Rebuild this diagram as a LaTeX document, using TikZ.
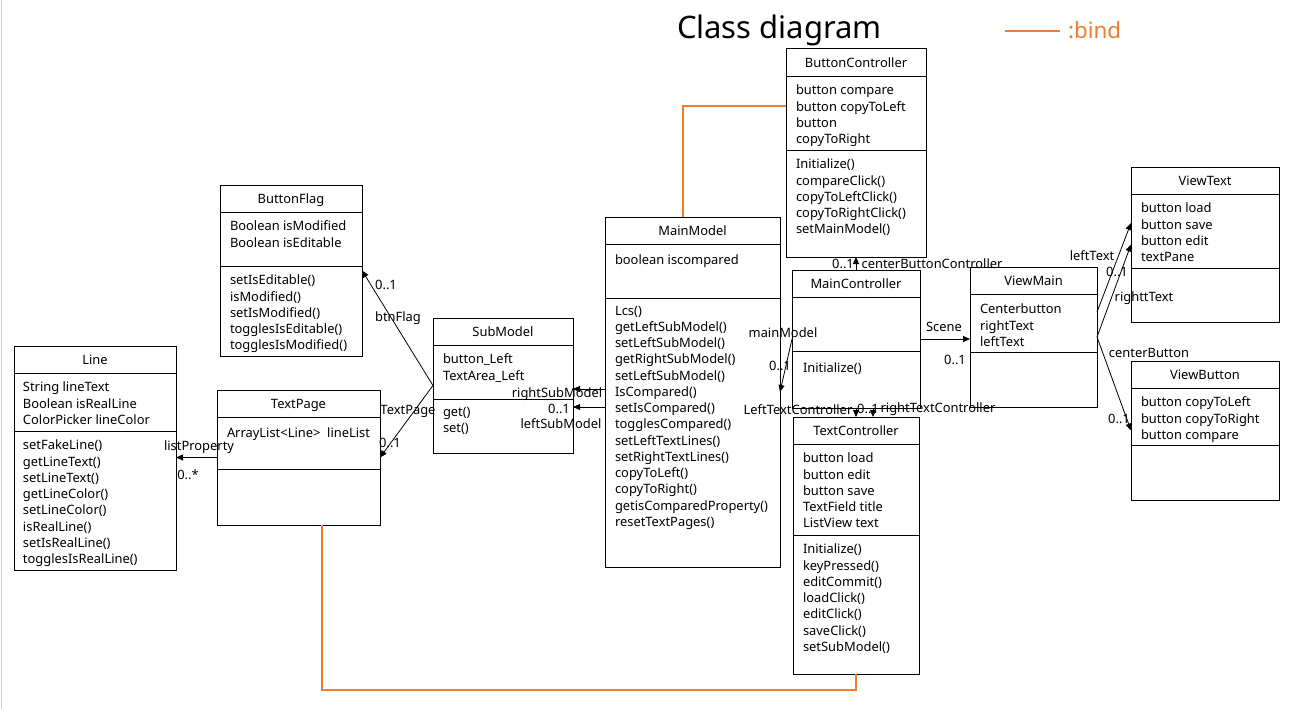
\documentclass[tikz,border=0pt]{standalone}
\usepackage{fontspec}
\setmainfont{Noto Sans}
\usetikzlibrary{arrows.meta,calc}
\definecolor{bindorange}{HTML}{ED7D31}
\definecolor{edgegray}{HTML}{D0D0D0}

% class box: name, x, y, width, height, header height, attribute divider offset, title
\newcommand\umlclass[8]{%
  \node[clsbox, minimum width=#4, minimum height=#5] (#1) at (#2,#3) {};
  \draw[divider] ($(#1.north west)+(0,#6)$) -- ($(#1.north east)+(0,#6)$);
  \draw[divider] ($(#1.north west)+(0,#7)$) -- ($(#1.north east)+(0,#7)$);
  \node[clstitle] (#1-title) at ($(#1.north)+(0,#6/2)$) {#8};
}
% member list whose first baseline sits near the given y
\newcommand\members[4]{%
  \node[memberlist] (#1) at (#2,#3-8) {#4};
}

\begin{document}
\begin{tikzpicture}[x=1pt,y=-1pt,
  every node/.style={font=\fontsize{12.9}{16.25}\selectfont, inner sep=0pt, outer sep=0pt},
  clsbox/.style={draw, line width=1pt, anchor=north west, fill=white},
  divider/.style={line width=1pt},
  clstitle/.style={text height=9.2pt, text depth=0pt},
  memberlist/.style={anchor=north west, align=left, execute at begin node={\rule{0pt}{11pt}}},
  lbl/.style={text height=9.5pt, text depth=0.5pt},
  arr/.style={line width=0.8pt, -{Triangle[length=7pt,width=6pt]}},
  bind/.style={draw=bindorange, line width=1.6pt}
]
\useasboundingbox (0,0) rectangle (1295,709);
\fill[white] (0,0) rectangle (1295,709);
\draw[edgegray, line width=1pt] (1.5,0) -- (1.5,709);

% heading and legend
\node[anchor=base west, font=\fontsize{31}{36}\selectfont] (heading) at (677,39) {Class diagram};
\coordinate (leg-a) at (1005,31);
\coordinate (leg-b) at (1060,31);
\draw[bind] (leg-a) -- (leg-b);
\node[anchor=base west, font=\fontsize{22.4}{26}\selectfont, text=bindorange] (legend) at (1068,39) {:bind};

% ---------- classes ----------
\umlclass{bc}{786}{49}{140}{208}{27}{101}{ButtonController}
\members{bc-a}{796}{93}{button compare\\button copyToLeft\\button\\copyToRight}
\members{bc-m}{796}{167}{Initialize()\\compareClick()\\copyToLeftClick()\\copyToRightClick()\\setMainModel()}

\umlclass{mm}{605}{217}{175}{350}{27}{81}{MainModel}
\members{mm-a}{615}{261}{boolean iscompared}
\members{mm-m}{615}{314}{Lcs()\\getLeftSubModel()\\setLeftSubModel()\\getRightSubModel()\\setLeftSubModel()\\IsCompared()\\setIsCompared()\\togglesCompared()\\setLeftTextLines()\\setRightTextLines()\\copyToLeft()\\copyToRight()\\getisComparedProperty()\\resetTextPages()}

\umlclass{bf}{220}{185}{142}{171}{27}{81}{ButtonFlag}
\members{bf-a}{230}{229}{Boolean isModified\\Boolean isEditable}
\members{bf-m}{230}{283}{setIsEditable()\\isModified()\\setIsModified()\\togglesIsEditable()\\togglesIsModified()}

\umlclass{sub}{433}{318}{140}{135}{27}{81}{SubModel}
\members{sub-a}{443}{362}{button\_Left\\TextArea\_Left}
\members{sub-m}{443}{415}{get()\\set()}

\umlclass{tp}{217}{390}{163}{135}{27}{79}{TextPage}
\members{tp-a}{227}{434}{ArrayList<Line>\ \ lineList}

\umlclass{line}{14}{346}{162}{224}{27}{85}{Line}
\members{line-a}{23}{390}{String lineText\\Boolean isRealLine\\ColorPicker lineColor}
\members{line-m}{23}{448}{setFakeLine()\\getLineText()\\setLineText()\\getLineColor()\\setLineColor()\\isRealLine()\\setIsRealLine()\\togglesIsRealLine()}

\umlclass{mc}{792}{270}{128}{138}{27}{81}{MainController}
\members{mc-m}{803}{369}{Initialize()}

\umlclass{vm}{970}{267}{127}{140}{27}{85}{ViewMain}
\members{vm-a}{980}{312}{Centerbutton\\rightText\\leftText}

\umlclass{tc}{793}{417}{126}{257}{27}{118}{TextController}
\members{tc-a}{803}{461}{button load\\button edit\\button save\\TextField title\\ListView text}
\members{tc-m}{803}{552}{Initialize()\\keyPressed()\\editCommit()\\loadClick()\\editClick()\\saveClick()\\setSubModel()}

\umlclass{vt}{1131}{167}{148}{155}{27}{101}{ViewText}
\members{vt-a}{1141}{211}{button load\\button save\\button edit\\textPane}

\umlclass{vb}{1131}{361}{148}{139}{27}{84}{ViewButton}
\members{vb-a}{1141}{405}{button copyToLeft\\button copyToRight\\button compare}

% ---------- associations ----------
\draw[arr] (sub.west) -- (bf.east);
\draw[arr] (sub.west) -- (tp.east);
\draw[arr] (tp.west) -- (tp.west -| line.east);

\coordinate (rsm) at ($(sub.east)+(0,3.5)$);
\coordinate (lsm) at ($(sub.east)+(0,21.5)$);
\draw[arr] (rsm -| mm.west) -- (rsm);
\draw[arr] (lsm -| mm.west) -- (lsm);

\draw[arr] (mc.west) -- (mm.east);
\draw[arr] (mc.north) -- (bc.south);
\draw[arr] (mc.south) -- (tc.north);
\draw[arr] ($(mc.south)+(17,0)$) -- ($(tc.north)+(17,0)$);
\draw[arr] (mc.east) -- (mc.east -| vm.west);

\draw[arr] ($(vm.east)+(0,-25)$) -- ($(vt.west)+(0,-21.5)$);
\draw[arr] (vm.east) -- (vt.west);
\draw[arr] (vm.east) -- (vb.west);

% ---------- association labels ----------
\node[lbl] (l-bf-m) at (386,285) {0..1};
\node[lbl] (l-bf-r) at (398,317) {btnFlag};
\node[lbl] (l-tp-r) at (408,410) {TextPage};
\node[lbl] (l-tp-m) at (390,443) {0..1};
\node[lbl] (l-ln-r) at (199,446) {listProperty};
\node[lbl] (l-ln-m) at (188,475) {0..*};
\node[lbl] (l-rs-r) at (557,393) {rightSubModel};
\node[lbl] (l-sm-m) at (559,409) {0..1};
\node[lbl] (l-ls-r) at (561,424) {leftSubModel};
\node[lbl] (l-mm-r) at (783,333) {mainModel};
\node[lbl] (l-mm-m) at (780,366) {0..1};
\node[lbl] (l-bc-m) at (843,264) {0..1};
\node[lbl] (l-bc-r) at (932,264) {centerButtonController};
\node[lbl] (l-tc-l) at (798,410) {LeftTextController};
\node[lbl] (l-tc-m) at (868,409) {0..1};
\node[lbl] (l-tc-r) at (938,408) {rightTextController};
\node[lbl] (l-vm-r) at (944,327) {Scene};
\node[lbl] (l-vm-m) at (955,360) {0..1};
\node[lbl] (l-vt-l) at (1092,256) {leftText};
\node[lbl] (l-vt-m) at (1117,272) {0..1};
\node[lbl] (l-vt-r) at (1144,297) {righttText};
\node[lbl] (l-vb-r) at (1149,353) {centerButton};
\node[lbl] (l-vb-m) at (1119,419) {0..1};

% ---------- bindings ----------
\draw[bind] ($(mm.north west)+(78,0)$) |- ($(bc.north west)+(0,57)$);
\draw[bind] ($(tp.south west)+(105,0)$) -- ++(0,165) -| (tc.south);
\end{tikzpicture}
\end{document}
